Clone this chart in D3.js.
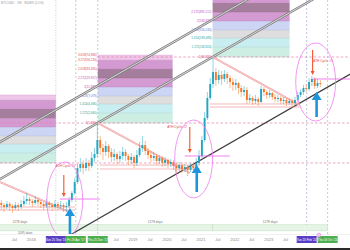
<!DOCTYPE html>
<html>
<head>
<meta charset="utf-8">
<script src="https://cdn.jsdelivr.net/npm/d3@7"></script>
<style>
  body { margin: 0; background: #fff; }
  svg { display: block; font-family: "Liberation Sans", Arial, sans-serif; }
</style>
</head>
<body>
<div id="chart"></div>
<script>
// monthly candles, the first one is Feb 2015 (open of each month = previous close)
var firstMonth = "2015-02-01";
var firstOpen = 15.0;
var closes = [13.3, 11.9, 14.1, 12.6, 11.2, 13.3, 11.9, 14.1, 16.8, 18.8, 16.8, 15.0, 17.8, 15.8, 14.1, 12.6, 15.0, 13.3, 11.9, 14.1, 12.6, 13.3, 11.9, 12.6,
  17.8, 26.6, 50.1, 112, 141, 112, 150, 126, 200, 251, 562, 355, 282, 398, 282, 211, 251, 188, 224, 282, 224, 178, 211, 150,
  237, 355, 422, 299, 237, 200, 224, 168, 200, 150, 178, 141, 158, 126, 112, 133, 106, 119, 100, 126, 112, 150, 224, 562,
  1995, 6310, 14130, 28180, 17780, 23710, 18840, 25120, 19950, 15850, 13340, 14960, 11220, 8913, 10000, 5623, 6310, 5309, 5957, 5012, 10590, 8913, 7499, 8414,
  6683, 5957, 6310, 5309, 5623, 4732, 5309, 4732, 5623, 7499, 8913, 11220, 10590, 15850, 18840, 12590, 14960, 14130];
var highs = [17.8, 15.0, 16.8, 15.8, 14.1, 15.8, 15.0, 17.8, 22.4, 26.6, 21.1, 18.8, 22.4, 20.0, 17.8, 15.8, 18.8, 16.8, 15.0, 17.8, 15.8, 16.8, 15.0, 15.8,
  21.1, 29.9, 63.1, 141, 200, 178, 200, 178, 282, 355, 1496, 708, 447, 531, 447, 355, 335, 282, 299, 376, 335, 251, 266, 237,
  316, 501, 708, 531, 355, 299, 282, 251, 237, 224, 211, 200, 188, 178, 150, 158, 150, 141, 133, 150, 158, 200, 316, 708,
  2818, 8913, 19950, 66830, 35480, 31620, 29850, 31620, 28180, 23710, 19950, 18840, 15850, 13340, 12590, 11890, 7943, 7079, 7499, 6683, 12590, 11890, 10000, 10000,
  8913, 7943, 7499, 7079, 6683, 6310, 5957, 5957, 6683, 8913, 10590, 13340, 14130, 19950, 22390, 21130, 18840, 17780];
var lows = [10.0, 8.91, 10.6, 9.44, 8.41, 10.0, 9.44, 10.6, 12.6, 14.1, 13.3, 11.9, 13.3, 12.6, 11.2, 10.0, 11.2, 10.6, 9.44, 10.6, 10.0, 10.6, 8.91, 8.91,
  11.2, 15.8, 23.7, 44.7, 89.1, 79.4, 94.4, 94.4, 112, 158, 211, 237, 178, 224, 200, 158, 168, 141, 150, 178, 168, 133, 141, 112,
  126, 211, 282, 237, 188, 158, 168, 133, 141, 119, 126, 112, 119, 100, 79.4, 94.4, 84.1, 89.1, 70.8, 89.1, 84.1, 100, 133, 200,
  501, 1778, 5623, 11220, 12590, 14130, 13340, 15850, 14130, 11220, 9441, 10000, 7943, 6683, 7079, 4467, 4732, 4217, 4467, 3981, 4732, 7079, 5957, 6310,
  5623, 5012, 5012, 4467, 4467, 3981, 4217, 3758, 4217, 5012, 6683, 7499, 8913, 9441, 12590, 10590, 11220, 11890];

// fib extension boxes drawn from each previous cycle high
var fibFrom = ["2013-09-01", "2017-12-21", "2021-05-12"];
var fibTo = ["2016-09-25", "2020-03-07", "2023-08-20"];
var fibBase = [150, 1496, 66830];
var fibLevels = ["1", "1.272", "1.414", "1.618", "2", "2.272", "2.618", "3.272", "3.618"];
var fibRatios = [1, 1.778, 2.985, 4.732, 7.943, 13.34, 22.39, 37.58, 50.12];
var fibColors = ["#cdeee3", "#c9eef2", "#dedede", "#cdd5f5", "#d49ad2", "#a67e9d", "#d39ad1", "#efc5e9"];
var fibTextColors = ["#e0436b", "#26a69a", "#26a69a", "#5c7bd6", "#c04fc0", "#c04fc0", "#e0436b", "#e0436b", "#e0436b"];

// previous cycle highs (pink dashed)
var athFrom = ["2015-02-01", "2015-02-01", "2017-12-21"];
var athPrice = [150, 1496, 66830];
var athLabelDate = ["2016-09-22", "2020-01-10", "2024-05-01"];
var athLabelText = ["ATH Cycle #1", "ATH Cycle #2", "ATH Cycle #3"];

// log channel: two points on each line
var channelA = [["2015-02-01", 501], ["2017-12-21", 1496], ["2017-01-01", 2.0]];
var channelB = [["2018-04-07", 17780], ["2021-05-12", 66830], ["2025-02-12", 17780]];
var channelStyle = ["double", "double", "solid"];

// descending trend lines after each high
var trendA = [["2015-02-01", 50.1], ["2017-12-21", 1496], ["2021-05-12", 66830]];
var trendB = [["2017-03-15", 8.41], ["2020-09-08", 84.1], ["2023-12-06", 4217]];

// horizontal support zones (two prices each)
var supportFrom = ["2015-02-01", "2018-01-12", "2021-04-10"];
var supportTo = ["2017-04-20", "2020-12-25", "2023-12-06"];
var supportHi = [11.9, 133, 4467];
var supportLo = [10.0, 106, 3758];

// magenta breakout levels
var breakFrom = ["2016-11-07", "2020-07-15", "2024-04-24"];
var breakTo = ["2018-01-12", "2021-11-12", "2025-06-01"];
var breakPrice = [18.8, 224, 18840];

// arrows: date, from price, to price
var redArrows = [["2016-12-20", 75.0, 21.1], ["2020-09-08", 1190, 266], ["2024-04-24", 100000, 23710]];
var blueArrows = [["2017-02-24", 2.11, 11.2], ["2020-11-22", 28.2, 133], ["2024-06-06", 2113, 8913]];

// circled zones: left date, right date, top price, bottom price
var circles = [["2016-06-20", "2017-07-12", 158, 2.0], ["2020-03-29", "2021-05-12", 1778, 20.0], ["2023-10-25", "2024-12-28", 149600, 1679]];

// vertical markers with their date tags
var markerDates = ["2016-09-25", "2017-04-28", "2017-12-21", "2024-02-20", "2024-10-03"];
var markerColors = ["#5b3cc4", "#4caf50", "#4caf50", "#5b3cc4", "#4caf50"];
var markerLine = ["#a9a9a9", "#7cc47f", "#7cc47f", "#9a97c9", "#7cc47f"];

// date ranges
var rangeFrom = ["2013-05-16", "2017-12-21", "2021-05-12"];
var rangeTo = ["2017-12-21", "2021-05-12", "2024-10-03"];
var rangeText = ["1278 days", "1278 days", "1278 days"];

var upColor = "#22a6c4", downColor = "#f4792a";

document.addEventListener('DOMContentLoaded', function() {
  drawChart();
});

function drawChart() {
  var parseDate = d3.timeParse("%Y-%m-%d");
  var width = 350, height = 250, plotBottom = 234;

  var x = d3.scaleTime()
    .domain([new Date(2015, 1, 1), new Date(2025, 5, 1)])
    .range([0, width]);
  var y = d3.scaleLog()
    .domain([1, 1e6])
    .range([250, 10]);

  function px(p) { return x(parseDate(p[0])); }
  function py(p) { return y(p[1]); }

  var svg = d3.select("#chart").append("svg")
    .attr("width", width)
    .attr("height", height);

  svg.append("defs").append("clipPath").attr("id", "plot")
    .append("rect").attr("width", width).attr("height", plotBottom);

  var plot = svg.append("g").attr("clip-path", "url(#plot)");

  // fib boxes
  fibBase.forEach(function(base, b) {
    var x0 = x(parseDate(fibFrom[b])), x1 = x(parseDate(fibTo[b]));
    for (var i = 0; i < fibRatios.length - 1; i++) {
      var yTop = y(base * fibRatios[i + 1]), yBot = y(base * fibRatios[i]);
      plot.append("rect")
        .attr("x", x0).attr("y", yTop)
        .attr("width", x1 - x0).attr("height", yBot - yTop)
        .attr("fill", fibColors[i]);
    }
    fibRatios.forEach(function(r, i) {
      var yy = y(base * r);
      plot.append("line")
        .attr("x1", x0).attr("x2", x1).attr("y1", yy).attr("y2", yy)
        .attr("stroke", d3.color(fibColors[Math.min(i, fibColors.length - 1)]).darker(0.4))
        .attr("stroke-width", 0.4);
      // labels sit left of the box, so skip them when the box starts off screen
      if (x0 < 20 || yy < 3) return;
      plot.append("text")
        .attr("x", x0 - 1).attr("y", yy + 1)
        .attr("text-anchor", "end")
        .attr("font-size", 3)
        .attr("fill", fibTextColors[i])
        .text(fibLevels[i] + "(" + d3.format(",.0f")(base * r) + ")");
    });
  });

  // previous highs
  athPrice.forEach(function(p, i) {
    plot.append("line")
      .attr("x1", x(parseDate(athFrom[i]))).attr("x2", width)
      .attr("y1", y(p)).attr("y2", y(p))
      .attr("stroke", "#e57fa8").attr("stroke-width", 0.7)
      .attr("stroke-dasharray", "2.5,2");
    plot.append("text")
      .attr("x", x(parseDate(athLabelDate[i]))).attr("y", y(p) + 4.5)
      .attr("font-size", 3.2).attr("fill", "#e04848")
      .text(athLabelText[i]);
  });

  // vertical markers
  markerDates.forEach(function(d, i) {
    var xx = x(parseDate(d));
    plot.append("line")
      .attr("x1", xx).attr("x2", xx).attr("y1", 0).attr("y2", plotBottom)
      .attr("stroke", markerLine[i]).attr("stroke-width", 0.6)
      .attr("stroke-dasharray", i === 0 ? "1,1.5" : "2,2");
  });

  // date ranges near the bottom
  rangeFrom.forEach(function(d, i) {
    var x0 = x(parseDate(d)), x1 = x(parseDate(rangeTo[i]));
    plot.append("rect")
      .attr("x", x0).attr("y", y(4.3))
      .attr("width", x1 - x0).attr("height", y(3.0) - y(4.3))
      .attr("fill", "#e5f4e5").attr("stroke", "#b7dcb7").attr("stroke-width", 0.4);
    plot.append("text")
      .attr("x", (x0 + x1) / 2).attr("y", y(5.0) + 1)
      .attr("text-anchor", "middle")
      .attr("font-size", 3.2).attr("fill", "#777")
      .text(rangeText[i]);
  });
  plot.append("text")
    .attr("x", (x(parseDate("2014-05-01")) + x(parseDate("2017-04-28"))) / 2).attr("y", y(2.66) + 1)
    .attr("text-anchor", "middle")
    .attr("font-size", 3.2).attr("fill", "#777")
    .text("1095 days");

  // channel lines, extended over the whole chart
  channelA.forEach(function(a, i) {
    var b = channelB[i];
    var ax = px(a), ay = py(a), bx = px(b), by = py(b);
    var k = (by - ay) / (bx - ax);
    var pts = [[-5, ay + k * (-5 - ax)], [width + 5, ay + k * (width + 5 - ax)]];
    if (channelStyle[i] === "double") {
      plot.append("path").attr("d", d3.line()(pts))
        .attr("stroke", "#7d7d7d").attr("stroke-width", 2.4).attr("fill", "none");
      plot.append("path").attr("d", d3.line()(pts))
        .attr("stroke", "#e6e6e6").attr("stroke-width", 0.9).attr("fill", "none");
    } else {
      plot.append("path").attr("d", d3.line()(pts))
        .attr("stroke", "#3c3c3c").attr("stroke-width", 1.2).attr("fill", "none");
    }
  });

  // descending trend lines
  trendA.forEach(function(a, i) {
    var pts = [[px(a), py(a)], [px(trendB[i]), py(trendB[i])]];
    plot.append("path").attr("d", d3.line()(pts))
      .attr("stroke", "#ef8d8d").attr("stroke-width", 1.8).attr("fill", "none");
    plot.append("path").attr("d", d3.line()(pts))
      .attr("stroke", "#fff").attr("stroke-width", 0.6).attr("fill", "none");
  });

  // support zones
  supportFrom.forEach(function(d, i) {
    [supportHi[i], supportLo[i]].forEach(function(p) {
      plot.append("line")
        .attr("x1", x(parseDate(d))).attr("x2", x(parseDate(supportTo[i])))
        .attr("y1", y(p)).attr("y2", y(p))
        .attr("stroke", "#f09a9a").attr("stroke-width", 0.7);
    });
  });

  // candles
  var candles = closes.map(function(c, i) {
    var start = d3.timeMonth.offset(parseDate(firstMonth), i);
    return {
      start: start,
      end: d3.timeMonth.offset(start, 1),
      open: i === 0 ? firstOpen : closes[i - 1],
      close: c, high: highs[i], low: lows[i]
    };
  });

  var candle = plot.append("g").selectAll("g")
    .data(candles).enter().append("g");

  candle.append("line")
    .attr("x1", function(d) { return (x(d.start) + x(d.end)) / 2; })
    .attr("x2", function(d) { return (x(d.start) + x(d.end)) / 2; })
    .attr("y1", function(d) { return y(d.high); })
    .attr("y2", function(d) { return y(d.low); })
    .attr("stroke", function(d) { return d.close >= d.open ? upColor : downColor; })
    .attr("stroke-width", 0.5);

  candle.append("rect")
    .attr("x", function(d) { return (x(d.start) + x(d.end)) / 2 - 0.95; })
    .attr("width", 1.9)
    .attr("y", function(d) { return y(Math.max(d.open, d.close)); })
    .attr("height", function(d) { return Math.max(0.6, Math.abs(y(d.open) - y(d.close))); })
    .attr("fill", function(d) { return d.close >= d.open ? upColor : downColor; });

  // breakout levels
  breakPrice.forEach(function(p, i) {
    plot.append("line")
      .attr("x1", x(parseDate(breakFrom[i]))).attr("x2", x(parseDate(breakTo[i])))
      .attr("y1", y(p)).attr("y2", y(p))
      .attr("stroke", "#ec5fec").attr("stroke-width", 0.8);
  });

  // circled zones
  circles.forEach(function(c) {
    var x0 = x(parseDate(c[0])), x1 = x(parseDate(c[1]));
    var y0 = y(c[2]), y1 = y(c[3]);
    plot.append("ellipse")
      .attr("cx", (x0 + x1) / 2).attr("cy", (y0 + y1) / 2)
      .attr("rx", (x1 - x0) / 2).attr("ry", (y1 - y0) / 2)
      .attr("fill", "none").attr("stroke", "#f07cf0").attr("stroke-width", 0.8);
  });

  // arrows
  function arrow(a, color, shaft, headW, headL) {
    var xx = x(parseDate(a[0])), ys = y(a[1]), ye = y(a[2]);
    var dir = ye > ys ? 1 : -1;
    plot.append("line")
      .attr("x1", xx).attr("x2", xx).attr("y1", ys).attr("y2", ye - dir * headL)
      .attr("stroke", color).attr("stroke-width", shaft);
    plot.append("path")
      .attr("d", "M" + (xx - headW / 2) + "," + (ye - dir * headL) + "L" + (xx + headW / 2) + "," + (ye - dir * headL) + "L" + xx + "," + ye + "Z")
      .attr("fill", color);
  }
  redArrows.forEach(function(a) { arrow(a, "#f0542a", 1.1, 4, 4); });
  blueArrows.forEach(function(a) { arrow(a, "#1e94dc", 2.6, 10, 8); });

  // Add the X Axis
  svg.append("line")
    .attr("x1", 0).attr("x2", width).attr("y1", plotBottom + 0.5).attr("y2", plotBottom + 0.5)
    .attr("stroke", "#e3e3e3").attr("stroke-width", 0.5);

  var markerX = markerDates.map(function(d) { return x(parseDate(d)); });

  var axisG = svg.append("g")
    .attr("transform", "translate(0," + plotBottom + ")")
    .call(d3.axisBottom(x)
      .ticks(d3.timeMonth.every(6))
      .tickSize(0)
      .tickPadding(4)
      .tickFormat(function(d) { return d.getMonth() === 0 ? d3.timeFormat("%Y")(d) : d3.timeFormat("%b")(d); }));
  axisG.select(".domain").remove();
  axisG.selectAll("text").attr("font-size", 4).attr("fill", "#8a8a8a");
  // tick labels that sit under a date tag are hidden, like the tags cover them
  axisG.selectAll(".tick").filter(function(d) {
    var xx = x(d);
    return markerX.some(function(m) { return Math.abs(m - xx) < 14; });
  }).remove();

  // date tags for the vertical markers
  var tagFormat = d3.timeFormat("%a %d %b '%y");
  markerDates.forEach(function(d, i) {
    var xx = markerX[i];
    svg.append("rect")
      .attr("x", xx - 10).attr("y", plotBottom + 2)
      .attr("width", 20).attr("height", 7)
      .attr("fill", markerColors[i]);
    svg.append("text")
      .attr("x", xx).attr("y", plotBottom + 6.8)
      .attr("text-anchor", "middle")
      .attr("font-size", 3).attr("fill", "#fff")
      .text(tagFormat(parseDate(d)));
  });

  svg.append("circle")
    .attr("cx", x(parseDate("2024-07-01"))).attr("cy", y(2.37))
    .attr("r", 2).attr("fill", "#f3c4f0").attr("stroke", "#e08ae0").attr("stroke-width", 0.5);

  // title
  svg.append("text")
    .attr("x", 1).attr("y", 4)
    .attr("font-size", 3.2).attr("fill", "#999")
    .text("BTCUSD · 1M · INDEX (LOG)");

  svg.append("rect")
    .attr("y", 248).attr("width", width).attr("height", 2)
    .attr("fill", "#2a2a2a");
}
</script>
</body>
</html>
